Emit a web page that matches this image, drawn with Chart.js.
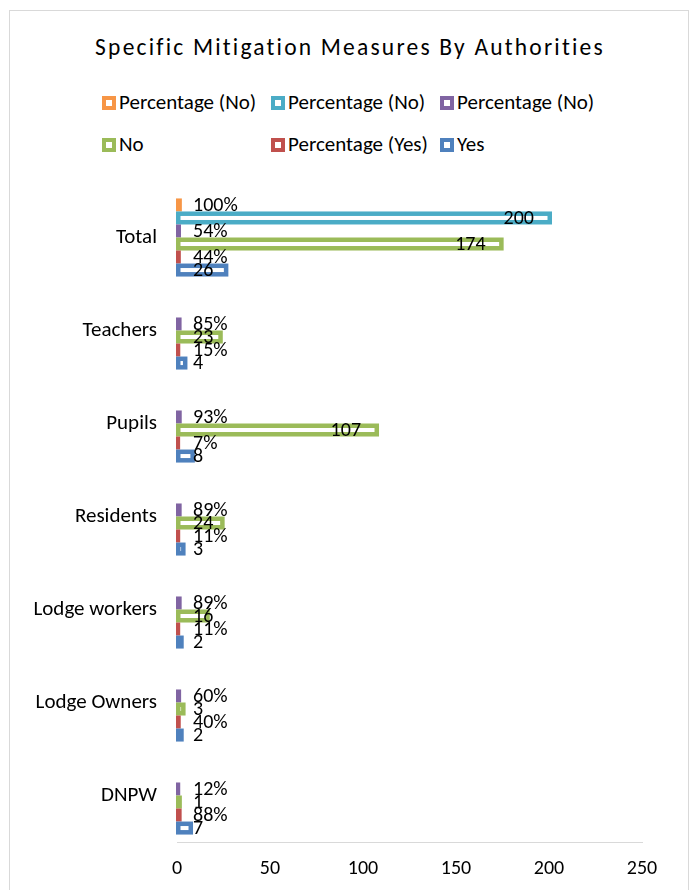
<!DOCTYPE html>
<html>
<head>
<meta charset="utf-8">
<script src="https://cdn.jsdelivr.net/npm/chart.js@4.4.1/dist/chart.umd.min.js"></script>
<style>
  body { margin: 0; background: #fff; font-family: Carlito, Lato, sans-serif; color: #000; }
  #frame { position: absolute; left: 9px; top: 10px; width: 678px; height: 920px; border: 1px solid #d9d9d9; }
  #title { position: absolute; left: 0; width: 700px; top: 33px; text-align: center; font-size: 23.5px; letter-spacing: 2.2px; }
  .lg { position: absolute; font-size: 21px; line-height: 24px; white-space: nowrap; }
  .lg i { display: inline-block; box-sizing: border-box; width: 14px; height: 14px; border: 4.5px solid; background: #fff; margin-right: 3px; vertical-align: -1px; }
  canvas { position: absolute; left: 0; top: 0; }
</style>
</head>
<body>
<div id="frame"></div>
<div id="title">Specific Mitigation Measures By Authorities</div>
<div id="legend"></div>
<canvas id="chart" width="691" height="890"></canvas>
<script>
// categories top to bottom
const categories = ["Total", "Teachers", "Pupils", "Residents", "Lodge workers", "Lodge Owners", "DNPW"]
const seriesNames = ["Percentage (No)", "Percentage (No)", "Percentage (No)", "No", "Percentage (Yes)", "Yes"]
const seriesColors = ["#f79646", "#4bacc6", "#8064a2", "#9bbb59", "#c0504d", "#4f81bd"]
const seriesIsPct = [true, false, true, false, true, false]

const pctNoTotal = [1.00, null, null, null, null, null, null]
const countNoTotal = [200, null, null, null, null, null, null]
const pctNo = [0.54, 0.85, 0.93, 0.89, 0.89, 0.60, 0.12]
const countNo = [174, 23, 107, 24, 16, 3, 1]
const pctYes = [0.44, 0.15, 0.07, 0.11, 0.11, 0.40, 0.88]
const countYes = [26, 4, 8, 3, 2, 2, 7]
const xTicks = [0, 50, 100, 150, 200, 250]

const seriesData = [pctNoTotal, countNoTotal, pctNo, countNo, pctYes, countYes]

// html legend, three columns like the excel one
const legend = document.getElementById("legend")
seriesNames.forEach((name, i) => {
  const d = document.createElement("div")
  d.className = "lg"
  d.style.left = (102 + (i % 3) * 169) + "px"
  d.style.top = (90 + Math.floor(i / 3) * 42) + "px"
  d.innerHTML = '<i style="border-color:' + seriesColors[i] + '"></i>' + name
  legend.appendChild(d)
})

const FONT = { family: "Carlito, Lato, sans-serif", size: 21 }
const NUMFONT = { family: "Carlito, Lato, sans-serif", size: 20 }

// excel-ish hollow bars + value labels
const hollowBars = {
  id: "hollowBars",
  afterDatasetsDraw(chart) {
    const ctx = chart.ctx
    const zero = chart.scales.x.getPixelForValue(0)
    const b = 4.5
    ctx.save()
    chart.data.datasets.forEach((ds, i) => {
      chart.getDatasetMeta(i).data.forEach((bar, j) => {
        if (ds.data[j] == null) return
        const p = bar.getProps(["x", "y", "base", "height"], true)
        const left = p.base - 1, right = p.x + 3
        const top = p.y - p.height / 2, h = p.height
        ctx.fillStyle = seriesColors[i]
        ctx.fillRect(left, top, right - left, h)
        if (right - left > 2 * b) {
          ctx.fillStyle = "#fff"
          ctx.fillRect(left + b, top + b, right - left - 2 * b, h - 2 * b)
        }
      })
    })
    ctx.font = NUMFONT.size + "px " + NUMFONT.family
    ctx.fillStyle = "#000"
    ctx.textBaseline = "middle"
    ctx.textAlign = "left"
    chart.data.datasets.forEach((ds, i) => {
      chart.getDatasetMeta(i).data.forEach((bar, j) => {
        const v = ds.data[j]
        if (v == null) return
        const p = bar.getProps(["x", "y"], true)
        const txt = seriesIsPct[i] ? Math.round(v * 100) + "%" : String(v)
        const w = ctx.measureText(txt).width
        const lx = Math.max(p.x - 15 - w, zero + 16)
        ctx.fillText(txt, lx, p.y + 1)
      })
    })
    ctx.restore()
  }
}

new Chart(document.getElementById("chart"), {
  type: "bar",
  plugins: [hollowBars],
  data: {
    labels: categories,
    datasets: seriesData.map((d, i) => ({
      label: seriesNames[i],
      data: d,
      backgroundColor: "rgba(0,0,0,0)",
      borderWidth: 0,
      categoryPercentage: 0.84,
      barPercentage: 1.0,
    })),
  },
  options: {
    indexAxis: "y",
    responsive: false,
    devicePixelRatio: 1,
    animation: false,
    events: [],
    layout: { padding: { left: 0, right: 49, top: 191, bottom: 0 } },
    plugins: { legend: { display: false }, title: { display: false }, tooltip: { enabled: false } },
    scales: {
      x: {
        min: 0,
        max: 250,
        afterBuildTicks: (s) => { s.ticks = xTicks.map((v) => ({ value: v })) },
        afterFit: (s) => { s.height = 48 },
        grid: { display: false, drawTicks: false },
        border: { display: true, color: "#d9d9d9", width: 1 },
        ticks: { color: "#000", font: NUMFONT, padding: 15 },
      },
      y: {
        afterFit: (s) => { s.width = 177 },
        grid: { display: false, drawTicks: false },
        border: { display: false },
        ticks: { color: "#000", font: FONT, padding: 20 },
      },
    },
  },
})
</script>
</body>
</html>
